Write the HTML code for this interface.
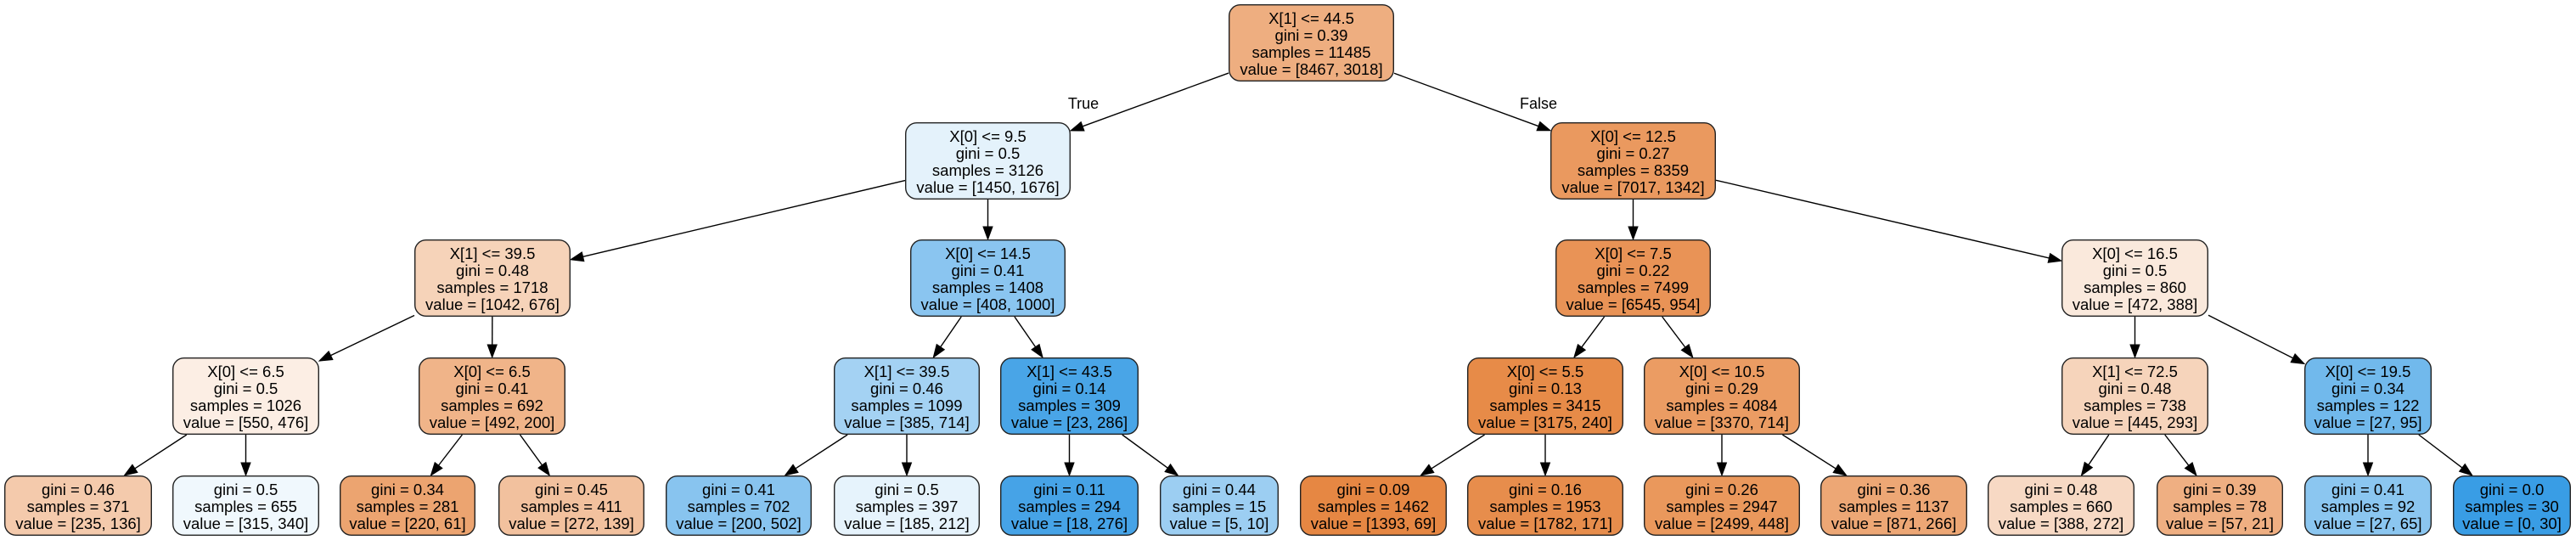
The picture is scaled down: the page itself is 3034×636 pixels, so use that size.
<!DOCTYPE html>
<html><head><meta charset="utf-8"><style>
html,body{margin:0;padding:0;background:#fff;width:3034px;height:636px;overflow:hidden}
svg{display:block}
text{font-family:"Liberation Sans",Arial,sans-serif;font-size:18.5px;fill:#000}
</style></head><body>
<svg id="s" width="3034" height="636" viewBox="0 0 3034 636" xmlns="http://www.w3.org/2000/svg">
<text x="1276" y="128" text-anchor="middle" style="font-size:18px">True</text>
<text x="1812" y="128" text-anchor="middle" style="font-size:18px">False</text>
</svg>
<script>
var Y=[5,144,282,421,560];
var N=[
[0,1447,1642,0,"X[1] <= 44.5","0.39",11485,8467,3018,-1],
[1,1066,1261,1,"X[0] <= 9.5","0.5",3126,1450,1676,0],
[2,1826,2021,1,"X[0] <= 12.5","0.27",8359,7017,1342,0],
[3,488,672,2,"X[1] <= 39.5","0.48",1718,1042,676,1],
[4,1072,1255,2,"X[0] <= 14.5","0.41",1408,408,1000,1],
[5,1832,2015,2,"X[0] <= 7.5","0.22",7499,6545,954,2],
[6,2428,2601,2,"X[0] <= 16.5","0.5",860,472,388,2],
[7,203,376,3,"X[0] <= 6.5","0.5",1026,550,476,3],
[8,493,666,3,"X[0] <= 6.5","0.41",692,492,200,3],
[9,982,1154,3,"X[1] <= 39.5","0.46",1099,385,714,4],
[10,1178,1341,3,"X[1] <= 43.5","0.14",309,23,286,4],
[11,1728,1912,3,"X[0] <= 5.5","0.13",3415,3175,240,5],
[12,1936,2120,3,"X[0] <= 10.5","0.29",4084,3370,714,5],
[13,2428,2601,3,"X[1] <= 72.5","0.48",738,445,293,6],
[14,2714,2864,3,"X[0] <= 19.5","0.34",122,27,95,6],
[15,5,179,4,"","0.46",371,235,136,7],
[16,203,376,4,"","0.5",655,315,340,7],
[17,400,560,4,"","0.34",281,220,61,8],
[18,587,759,4,"","0.45",411,272,139,8],
[19,784,956,4,"","0.41",702,200,502,9],
[20,982,1154,4,"","0.5",397,185,212,9],
[21,1178,1341,4,"","0.11",294,18,276,10],
[22,1366,1506,4,"","0.44",15,5,10,10],
[23,1531,1704,4,"","0.09",1462,1393,69,11],
[24,1728,1912,4,"","0.16",1953,1782,171,11],
[25,1936,2120,4,"","0.26",2947,2499,448,12],
[26,2144,2317,4,"","0.36",1137,871,266,12],
[27,2341,2514,4,"","0.48",660,388,272,13],
[28,2540,2689,4,"","0.39",78,57,21,13],
[29,2714,2864,4,"","0.41",92,27,65,14],
[30,2889,3028,4,"","0.0",30,0,30,14]
];
var s=document.getElementById('s'),NS="http://www.w3.org/2000/svg";
function el(t,a,txt){var e=document.createElementNS(NS,t);for(var k in a)e.setAttribute(k,a[k]);if(txt!=null)e.textContent=txt;s.appendChild(e);return e;}
function box(n){var y=Y[n[3]],h=n[3]==4?71:91;return {x1:n[1],x2:n[2],y1:y,y2:y+h,cx:(n[1]+n[2])/2,cy:y+h/2};}
function col(a,b){var t=a+b,p0=a/t,p1=b/t,mx=Math.max(p0,p1),mn=Math.min(p0,p1);var al=(mx-mn)/(1-mn);var c=p0>=p1?[229,129,57]:[57,157,229];
return "rgb("+c.map(function(v){return Math.round(al*v+(1-al)*255)}).join(",")+")";}
function clip(b,dx,dy){var t=1e9;if(dx>0)t=Math.min(t,(b.x2-b.cx)/dx);if(dx<0)t=Math.min(t,(b.x1-b.cx)/dx);if(dy>0)t=Math.min(t,(b.y2-b.cy)/dy);if(dy<0)t=Math.min(t,(b.y1-b.cy)/dy);return t;}
N.forEach(function(n){if(n[9]<0)return;var p=box(N[n[9]]),c=box(n);var dx=c.cx-p.cx,dy=c.cy-p.cy;
var t0=clip(p,dx,dy),t1=1-clip(c,-dx,-dy);
var sx=p.cx+dx*t0,sy=p.cy+dy*t0,ex=p.cx+dx*t1,ey=p.cy+dy*t1;
var L=Math.sqrt(dx*dx+dy*dy),ux=dx/L,uy=dy/L,al=15,w=5.5;
var bx=ex-ux*al,by=ey-uy*al;
el('line',{x1:sx,y1:sy,x2:bx,y2:by,stroke:'#000','stroke-width':1.4});
el('polygon',{points:ex+","+ey+" "+(bx-uy*w)+","+(by+ux*w)+" "+(bx+uy*w)+","+(by-ux*w),fill:'#000',stroke:'#000','stroke-width':1});
});
N.forEach(function(n){var b=box(n);
el('rect',{x:b.x1+0.7,y:b.y1+0.7,width:b.x2-b.x1-1.4,height:b.y2-b.y1-1.4,rx:13,ry:13,fill:col(n[7],n[8]),stroke:'#222','stroke-width':1.4});
var lines=[];if(n[4])lines.push(n[4]);lines.push("gini = "+n[5]);lines.push("samples = "+n[6]);lines.push("value = ["+n[7]+", "+n[8]+"]");
lines.forEach(function(t,i){el('text',{x:b.cx,y:b.y1+23+i*20,'text-anchor':'middle'},t);});
});
</script>
</body></html>
